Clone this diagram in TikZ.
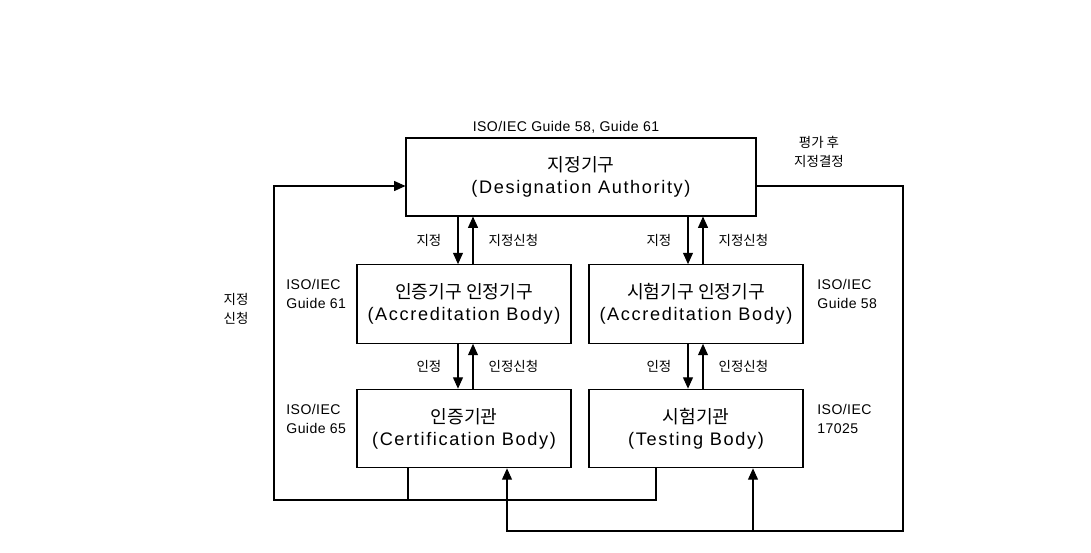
\documentclass[tikz,border=0pt]{standalone}
\usepackage{fontspec}
\setmainfont{Liberation Sans}
\newfontfamily\krfont{Noto Sans CJK KR}
\newfontfamily\boxfont[LetterSpace=9]{Liberation Sans}
\newfontfamily\isofont[LetterSpace=3]{Liberation Sans}
\usetikzlibrary{arrows.meta,positioning}

\begin{document}
\begin{tikzpicture}[x=0.03cm,y=-0.03cm,>={Triangle[length=3.4mm,width=3mm]}]
  \tikzset{
    body/.style={draw, line width=0.9pt, align=center, inner sep=2pt, font=\boxfont\fontsize{15.5}{19}\selectfont},
    wide/.style={body, minimum width=10.5cm, minimum height=2.34cm},
    half/.style={body, minimum width=6.42cm, minimum height=2.36cm},
    iso/.style={font=\isofont\fontsize{12}{15.5}\selectfont, align=left, inner sep=1pt},
    kr/.style={font=\krfont\fontsize{11.5}{16}\selectfont, align=center, inner sep=1pt},
    link/.style={line width=0.9pt}
  }
  \useasboundingbox (0,0) rectangle (1091,552);
  % boxes
  \node[wide] (da)  at (581,177)   {{\krfont 지정기구}\\(Designation Authority)};
  \node[half] (cab) at (464,304)   {{\krfont 인증기구 인정기구}\\(Accreditation Body)};
  \node[half] (tab) at (696,304)   {{\krfont 시험기구 인정기구}\\(Accreditation Body)};
  \node[half] (cb)  at (464,428.5) {{\krfont 인증기관}\\(Certification Body)};
  \node[half] (tb)  at (696,428.5) {{\krfont 시험기관}\\(Testing Body)};
  % standards
  \node[iso] (isoda)  at (566,127) {ISO/IEC Guide 58, Guide 61};
  \node[iso, anchor=west] (isocab) at (285,294) {ISO/IEC\\Guide 61};
  \node[iso, anchor=west] (isotab) at (816,294) {ISO/IEC\\Guide 58};
  \node[iso, anchor=west] (isocb)  at (285,419) {ISO/IEC\\Guide 65};
  \node[iso, anchor=west] (isotb)  at (816,419) {ISO/IEC\\17025};
  \node[kr] (decide) at (819,152) {평가 후\\지정결정};
  \node[kr] (apply)  at (236,309) {지정\\신청};
  % x positions of the arrows
  \coordinate (xl1) at (458,0);
  \coordinate (xl2) at (473,0);
  \coordinate (xr1) at (688,0);
  \coordinate (xr2) at (703,0);
  \coordinate (yin) at (0,186);
  \coordinate (lb)  at (274,500);
  \coordinate (jn)  at (408,500);
  \coordinate (rb)  at (903,531);
  \coordinate (xret) at (507,0);
  \coordinate (xtst) at (753,0);
  \coordinate (xtb)  at (656,0);
  \draw[link,->] (da.south -| xl1) -- node[kr, midway, left=0.45cm] (l1) {지정} (cab.north -| xl1);
  \draw[link,->] (cab.north -| xl2) -- node[kr, midway, right=0.42cm] (l2) {지정신청} (da.south -| xl2);
  \draw[link,->] (da.south -| xr1) -- node[kr, midway, left=0.45cm] (l3) {지정} (tab.north -| xr1);
  \draw[link,->] (tab.north -| xr2) -- node[kr, midway, right=0.42cm] (l4) {지정신청} (da.south -| xr2);
  \draw[link,->] (cab.south -| xl1) -- node[kr, midway, left=0.45cm] (l5) {인정} (cb.north -| xl1);
  \draw[link,->] (cb.north -| xl2) -- node[kr, midway, right=0.42cm] (l6) {인정신청} (cab.south -| xl2);
  \draw[link,->] (tab.south -| xr1) -- node[kr, midway, left=0.45cm] (l7) {인정} (tb.north -| xr1);
  \draw[link,->] (tb.north -| xr2) -- node[kr, midway, right=0.42cm] (l8) {인정신청} (tab.south -| xr2);
  % application loop
  \draw[link,->] (cb.south -| jn) |- (lb) |- (da.west |- yin);
  \draw[link] (tb.south -| xtb) |- (jn);
  % designation loop
  \draw[link,->] (da.east |- yin) -| (rb) -| (cb.south -| xret);
  \draw[link,->] (rb -| xtst) -- (tb.south -| xtst);
\end{tikzpicture}
\end{document}
